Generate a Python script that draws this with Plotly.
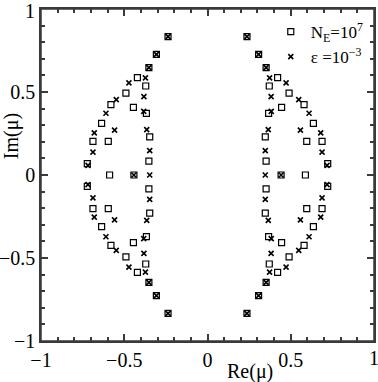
import plotly.graph_objects as go

# eigenvalues, N_E = 10^7 (open squares)
sq_re = [-0.237, -0.307, -0.352, -0.421, -0.371, -0.490, -0.580, -0.445, -0.367, -0.636, -0.688, -0.596, -0.347, -0.352, -0.722, -0.588, -0.442,
         -0.722, -0.352, -0.347, -0.596, -0.688, -0.636, -0.367, -0.445, -0.580, -0.490, -0.371, -0.421, -0.352, -0.307, -0.237,
         0.237, 0.307, 0.352, 0.421, 0.371, 0.490, 0.580, 0.445, 0.367, 0.636, 0.688, 0.596, 0.347, 0.352, 0.722, 0.588, 0.442,
         0.722, 0.352, 0.347, 0.596, 0.688, 0.636, 0.367, 0.445, 0.580, 0.490, 0.371, 0.421, 0.352, 0.307, 0.237]
sq_im = [0.834, 0.727, 0.647, 0.587, 0.536, 0.493, 0.424, 0.407, 0.371, 0.311, 0.202, 0.202, 0.230, 0.083, 0.069, 0.0, 0.0,
         -0.069, -0.083, -0.230, -0.202, -0.202, -0.311, -0.371, -0.407, -0.424, -0.493, -0.536, -0.587, -0.647, -0.727, -0.834,
         0.834, 0.727, 0.647, 0.587, 0.536, 0.493, 0.424, 0.407, 0.371, 0.311, 0.202, 0.202, 0.230, 0.083, 0.069, 0.0, 0.0,
         -0.069, -0.083, -0.230, -0.202, -0.202, -0.311, -0.371, -0.407, -0.424, -0.493, -0.536, -0.587, -0.647, -0.727, -0.834]

# eps = 10^-3 (crosses)
eps_re = [-0.237, -0.307, -0.352, -0.373, -0.472, -0.382, -0.548, -0.610, -0.383, -0.558, -0.365, -0.680, -0.688, -0.347, -0.718, -0.347, -0.442,
          -0.718, -0.347, -0.688, -0.680, -0.365, -0.558, -0.383, -0.610, -0.548, -0.382, -0.472, -0.373, -0.352, -0.307, -0.237,
          0.237, 0.307, 0.352, 0.373, 0.472, 0.382, 0.548, 0.610, 0.383, 0.558, 0.365, 0.680, 0.688, 0.347, 0.718, 0.347, 0.442,
          0.718, 0.347, 0.688, 0.680, 0.365, 0.558, 0.383, 0.610, 0.548, 0.382, 0.472, 0.373, 0.352, 0.307, 0.237]
eps_im = [0.834, 0.727, 0.647, 0.585, 0.555, 0.472, 0.454, 0.372, 0.383, 0.270, 0.273, 0.254, 0.138, 0.147, 0.058, 0.0, 0.0,
          -0.058, -0.147, -0.138, -0.254, -0.273, -0.270, -0.383, -0.372, -0.454, -0.472, -0.555, -0.585, -0.647, -0.727, -0.834,
          0.834, 0.727, 0.647, 0.585, 0.555, 0.472, 0.454, 0.372, 0.383, 0.270, 0.273, 0.254, 0.138, 0.147, 0.058, 0.0, 0.0,
          -0.058, -0.147, -0.138, -0.254, -0.273, -0.270, -0.383, -0.372, -0.454, -0.472, -0.555, -0.585, -0.647, -0.727, -0.834]

# the "1" at the top/right ends is written separately (it sits on the page edge)
tick_vals = [-1, -0.5, 0, 0.5]
tick_text = ["\u22121", "\u22120.5", "0", "0.5"]
end_val = 1
end_text = "1"

serif = "Liberation Serif"
frame_col = "#3a3a3a"

fig = go.Figure()
fig.add_trace(go.Scatter(
    x=sq_re, y=sq_im, mode="markers", name="N<sub>E</sub>=10<sup>7</sup>",
    marker=dict(symbol="square-open", size=6, color="black", line=dict(width=1.2, color="black")),
))
fig.add_trace(go.Scatter(
    x=eps_re, y=eps_im, mode="markers", name="\u03b5 =10<sup>\u22123</sup>",
    marker=dict(symbol="x-thin-open", size=5, color="black", line=dict(width=1.6, color="black")),
))

axis_common = dict(
    range=[-1, 1], tickmode="array", tickvals=tick_vals, ticktext=tick_text,
    ticks="inside", ticklen=7, tickwidth=1.5, tickcolor=frame_col,
    showline=True, linecolor=frame_col, linewidth=1.5, mirror="ticks",
    showgrid=False, zeroline=False,
    tickfont=dict(family=serif, size=20, color="black"),
    minor=dict(dtick=0.1, ticks="inside", ticklen=4, tickwidth=1.5, tickcolor=frame_col, showgrid=False),
)
fig.update_xaxes(**axis_common)
fig.update_yaxes(**axis_common)

# plot frame
fig.add_shape(type="rect", xref="paper", yref="paper", x0=0, y0=0, x1=1, y1=1,
              line=dict(color=frame_col, width=1.5), layer="above")

lab_font = dict(family=serif, size=20, color="black")
fig.add_annotation(text=end_text, xref="x", yref="paper", x=end_val, y=0, yanchor="top", yshift=-4,
                   showarrow=False, font=lab_font)
fig.add_annotation(text=end_text, xref="paper", yref="y", x=0, y=end_val, xanchor="right", xshift=-4,
                   yshift=-2, showarrow=False, font=lab_font)
fig.add_annotation(text="Re(\u03bc)", xref="x", yref="paper", x=0.254, y=0, yanchor="top", yshift=-17,
                   showarrow=False, font=lab_font)
fig.add_annotation(text="Im(\u03bc)", xref="paper", yref="y", x=0, y=0.234, xanchor="center", xshift=-30,
                   textangle=-90, showarrow=False, font=lab_font)

fig.update_layout(
    template="none",
    width=378, height=382,
    margin=dict(l=41, r=4, t=9, b=41),
    paper_bgcolor="white", plot_bgcolor="rgba(255,255,255,0)",
    showlegend=True,
    legend=dict(x=0.69, y=0.985, xanchor="left", yanchor="top", bgcolor="rgba(0,0,0,0)",
                font=dict(family=serif, size=17, color="black"), itemwidth=30, tracegroupgap=0),
)

fig.write_html("out.html", post_script="document.body.style.margin='0';", config={"displayModeBar": False})
